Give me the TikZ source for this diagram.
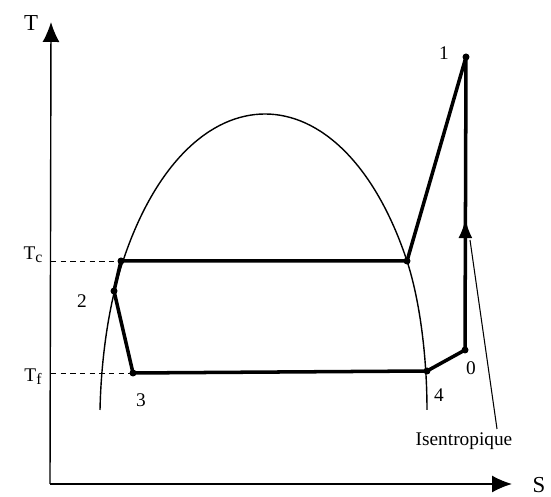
\documentclass[tikz,border=0pt]{standalone}
\usepackage{fontspec}
\setmainfont{Liberation Serif}
\usetikzlibrary{arrows.meta,decorations.markings}
\tikzset{
  axis/.style={line width=0.8pt,-{Latex[length=0.4cm,width=0.34cm]}},
  cyc/.style={line width=2pt,line join=round,line cap=round},
  dome/.style={line width=0.8pt},
  guide/.style={dashed,line width=0.5pt,dash pattern=on 3pt off 2.5pt},
  dot/.style={circle,fill,inner sep=0pt,minimum size=1.4mm},
  lbl/.style={font=\fontsize{11}{13}\selectfont,inner sep=1pt},
  midarrow/.style={postaction={decorate},decoration={markings,
    mark=at position #1 with {\arrow{Latex[length=0.4cm,width=0.28cm]}}}}
}
\begin{document}
\begin{tikzpicture}
\useasboundingbox (0,0) rectangle (11.02,9.94);
% axes
\coordinate (o) at (1.0,0.26);
\coordinate (ttip) at (1.02,9.50);
\coordinate (stip) at (10.24,0.26);
\draw[axis] (o) -- (ttip);
\draw[axis] (o) -- (stip);
\node[lbl,font=\fontsize{13}{15}\selectfont] (tlab) at (0.62,9.48) {T};
\node[lbl,font=\fontsize{13}{15}\selectfont] (slab) at (10.78,0.24) {S};
% saturation dome
\draw[dome] (2.00,1.74) .. controls (2.02,2.70) and (2.16,3.82) .. (2.46,4.72)
  .. controls (3.76,8.64) and (6.84,8.64) .. (8.14,4.72)
  .. controls (8.42,3.86) and (8.54,2.70) .. (8.54,1.74);
% cycle points
\coordinate (pa) at (2.42,4.72);
\coordinate (p2) at (2.28,4.12);
\coordinate (p3) at (2.66,2.48);
\coordinate (p4) at (8.54,2.52);
\coordinate (p0) at (9.30,2.94);
\coordinate (p1) at (9.32,8.80);
\coordinate (pb) at (8.14,4.72);
% temperature levels
\coordinate (tcax) at (1.02,4.72);
\coordinate (tfax) at (1.02,2.48);
\draw[guide] (tcax) -- (pa);
\draw[guide] (tfax) -- (p3);
\node[lbl] (tc) at (0.66,4.84) {T\raisebox{-0.3ex}{\fontsize{9}{10}\selectfont c}};
\node[lbl] (tf) at (0.66,2.40) {T\raisebox{-0.3ex}{\fontsize{9}{10}\selectfont f}};
% cycle
\draw[cyc] (pb) -- (pa) -- (p2) -- (p3) -- (p4) -- (p0);
\draw[cyc,midarrow=0.45] (p0) -- (p1);
\draw[cyc] (p1) -- (pb);
\foreach \p in {pa,p2,p3,p4,p0,p1,pb} \node[dot] at (\p) {};
% point labels
\node[lbl] (l1) at (8.88,8.88) {1};
\node[lbl] (l2) at (1.64,3.92) {2};
\node[lbl] (l3) at (2.82,1.94) {3};
\node[lbl] (l4) at (8.78,2.04) {4};
\node[lbl] (l0) at (9.42,2.58) {0};
% isentropic note
\node[lbl] (iso) at (9.28,1.12) {Isentropique};
\coordinate (ptr) at (9.94,1.36);
\coordinate (isa) at (9.40,5.14);
\draw[line width=0.6pt] (ptr) -- (isa);
\end{tikzpicture}
\end{document}
